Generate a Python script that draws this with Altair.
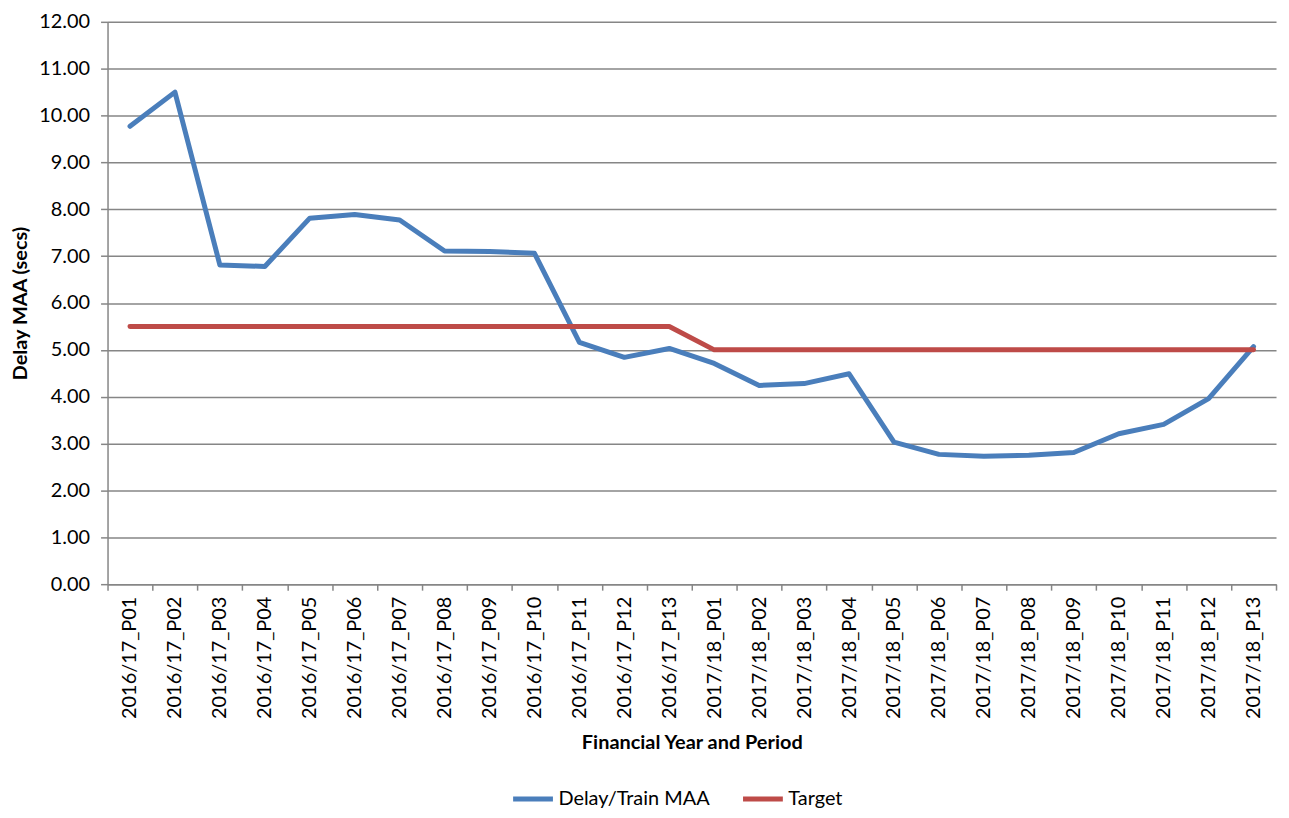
import altair as alt
import pandas as pd

periods = [
    "2016/17_P01", "2016/17_P02", "2016/17_P03", "2016/17_P04", "2016/17_P05",
    "2016/17_P06", "2016/17_P07", "2016/17_P08", "2016/17_P09", "2016/17_P10",
    "2016/17_P11", "2016/17_P12", "2016/17_P13",
    "2017/18_P01", "2017/18_P02", "2017/18_P03", "2017/18_P04", "2017/18_P05",
    "2017/18_P06", "2017/18_P07", "2017/18_P08", "2017/18_P09", "2017/18_P10",
    "2017/18_P11", "2017/18_P12", "2017/18_P13",
]
delay_maa = [
    9.77, 10.50, 6.81, 6.78, 7.81, 7.89, 7.77, 7.11, 7.10, 7.06,
    5.16, 4.84, 5.03,
    4.71, 4.24, 4.28, 4.49, 3.03, 2.77, 2.73, 2.75, 2.81, 3.21,
    3.41, 3.96, 5.07,
]
target = [5.5] * 13 + [5.0] * 13

series_names = ["Delay/Train MAA", "Target"]
series_colors = ["#4A7EBB", "#BE4B48"]

rows = []
for p, d, t in zip(periods, delay_maa, target):
    rows.append({"period": p, "series": series_names[0], "value": d})
    rows.append({"period": p, "series": series_names[1], "value": t})
df = pd.DataFrame(rows)

FONT = "Lato"
FS = 20

chart = (
    alt.Chart(df)
    .mark_line(strokeWidth=5, strokeCap="round", strokeJoin="round")
    .encode(
        x=alt.X(
            "period:N",
            sort=periods,
            title="Financial Year and Period",
            scale=alt.Scale(paddingInner=0, paddingOuter=0),
            axis=alt.Axis(
                labelAngle=-90,
                labelFontSize=FS,
                labelColor="#000000",
                labelPadding=6,
                tickBand="extent",
                tickSize=6,
                tickColor="#868686",
                tickWidth=1.5,
                domainColor="#868686",
                domainWidth=1.5,
                grid=False,
                titleFontSize=FS,
                titleFontWeight="bold",
                titleColor="#000000",
                titlePadding=14,
            ),
        ),
        y=alt.Y(
            "value:Q",
            title="Delay MAA (secs)",
            scale=alt.Scale(domain=[0, 12], nice=False),
            axis=alt.Axis(
                values=list(range(0, 13)),
                format=".2f",
                labelFontSize=FS,
                labelColor="#000000",
                labelPadding=11,
                tickSize=7,
                tickColor="#868686",
                tickWidth=1.5,
                domainColor="#868686",
                domainWidth=1.5,
                grid=True,
                gridColor="#868686",
                gridWidth=1.5,
                titleFontSize=FS,
                titleFontWeight="bold",
                titleColor="#000000",
                titlePadding=8,
            ),
        ),
        color=alt.Color(
            "series:N",
            scale=alt.Scale(domain=series_names, range=series_colors),
            legend=alt.Legend(
                orient="none",
                direction="horizontal",
                legendX=405,
                legendY=758,
                title=None,
                symbolType="stroke",
                symbolSize=1600,
                symbolStrokeWidth=5,
                labelFontSize=FS,
                labelColor="#000000",
                labelOffset=3,
                columnPadding=22,
            ),
        ),
    )
    .properties(
        width=1174,
        height=565,
        autosize=alt.AutoSizeParams(type="none"),
        padding={"left": 100, "top": 12, "right": 5, "bottom": 225},
    )
    .configure(font=FONT)
    .configure_view(stroke=None)
)

chart.save("out.html", embed_options={"renderer": "svg", "actions": False})
